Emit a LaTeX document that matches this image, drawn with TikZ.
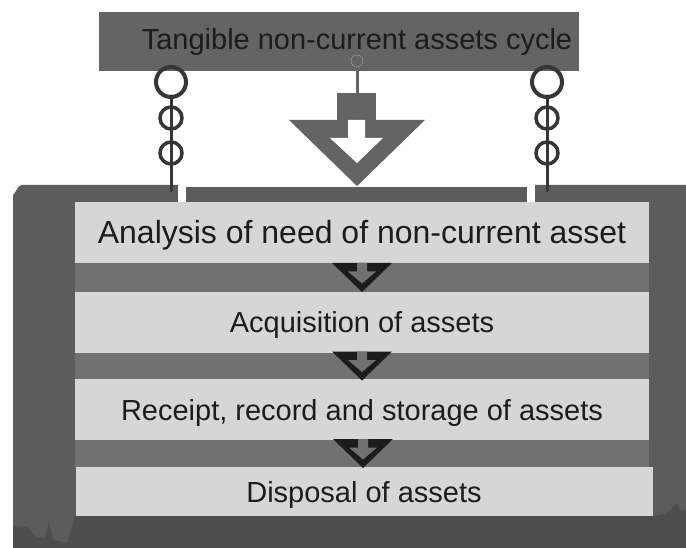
\documentclass[tikz,border=0pt]{standalone}
\usepackage{fontspec}
\setmainfont{Liberation Sans}
\usetikzlibrary{calc}

\definecolor{boardgray}{HTML}{5C5C5C}
\definecolor{boardshade}{HTML}{4D4D4D}
\definecolor{bandgray}{HTML}{717171}
\definecolor{boxgray}{HTML}{D6D6D6}
\definecolor{bannergray}{HTML}{646464}
\definecolor{chaingray}{HTML}{363636}
\definecolor{ink}{HTML}{1C1C1C}

\tikzset{
  stage/.style={fill=boxgray,minimum width=574pt,inner sep=0pt,text=ink,
    font=\fontsize{29}{34}\selectfont,text height=21pt,text depth=0pt},
  ring/.style={draw=chaingray,line width=4pt},
  rod/.style={draw=chaingray,line width=3pt,line cap=round},
  flowarrow/.pic={
    \fill[ink] (-30,-14.5) -- (30,-14.5) -- (0,14.5) -- cycle;
    \fill[bandgray] (-5,-14.5) -- (5,-14.5) -- (5,-6) -- (14,-6) -- (0,6) -- (-14,-6) -- (-5,-6) -- cycle;
  }
}

\begin{document}
\begin{tikzpicture}[x=1pt,y=-1pt]
\useasboundingbox[fill=white] (0,0) rectangle (686,548);

\fill[boardgray] (13,560) -- (13,194) to[out=-90,in=180] (22,185) -- (700,185) -- (700,560) -- cycle;
\fill[boardshade] (13,560) -- (13,526) -- (27,527) -- (37,537) -- (45,538) -- (49,522) -- (53,540)
  -- (67,543) -- (75,516) -- (653,516) -- (665,514) -- (672,508) -- (677,503) -- (680,510)
  -- (700,512) -- (700,560) -- cycle;
\fill[white] (178,183) rectangle (186,202);
\fill[white] (527,183) rectangle (535,202);
\fill[white] (186,183) rectangle (527,187);

\node[fill=bannergray,minimum width=480pt,minimum height=59pt,inner sep=0pt] (banner) at (339,41.5) {};
\node[text=ink,font=\fontsize{29}{35}\selectfont,text height=21pt,text depth=0pt,inner sep=0pt] (title) at (357,39) {Tangible non-current assets cycle};

\foreach \cx in {171,547} {
  \draw[rod] (\cx,96) -- (\cx,191);
  \draw[ring] (\cx,82) circle (15pt);
  \draw[ring,line width=3.5pt] (\cx,118) circle (11pt);
  \draw[ring,line width=3.5pt] (\cx,153) circle (11pt);
}

\draw[fill=bannergray,draw=gray!70] (357,61) circle (6pt);
\draw[bannergray,line width=3pt] (357,67) -- (357,94);
\fill[bannergray] (337,93) rectangle (376,120);
\fill[bannergray] (289,120) -- (425,120) -- (357,186) -- cycle;
\fill[white] (348,120) -- (365,120) -- (365,138) -- (383,138) -- (357,163) -- (330,138) -- (348,138) -- cycle;

\node[stage,minimum height=61pt,font=\fontsize{32}{38}\selectfont,text height=23pt] (analysis) at (362,232.5) {Analysis of need of non-current asset};
\node[stage,minimum height=61pt] (acquisition) at (362,322.5) {Acquisition of assets};
\node[stage,minimum height=61pt] (receipt) at (362,409.5) {Receipt, record and storage of assets};
\node[stage,minimum height=49pt,minimum width=577pt] (disposal) at (364,491.5) {Disposal of assets};

\fill[bandgray] (analysis.south west) rectangle (acquisition.north east);
\fill[bandgray] (acquisition.south west) rectangle (receipt.north east);
\fill[bandgray] (receipt.south west) rectangle (disposal.north -| receipt.east);

\pic at ($(analysis.south)!.5!(acquisition.north)$) {flowarrow};
\pic at ($(acquisition.south)!.5!(receipt.north)$) {flowarrow};
\pic at ($(receipt.south)!.5!(disposal.north)$) {flowarrow};
\end{tikzpicture}
\end{document}
